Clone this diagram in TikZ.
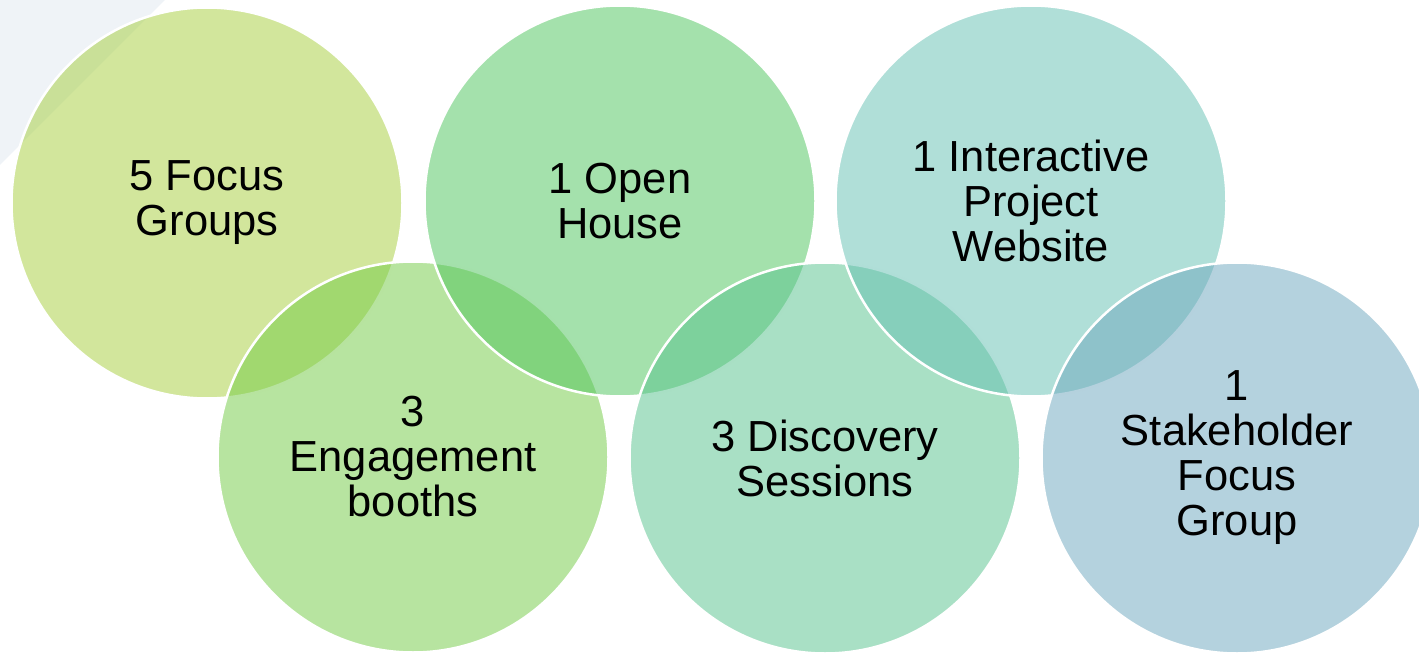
\documentclass[tikz,border=0pt]{standalone}
\usepackage{fontspec}
\setmainfont{Liberation Sans}
\definecolor{bgtri}{RGB}{239,243,247}
\definecolor{cA}{RGB}{168,207,65}
\definecolor{cB}{RGB}{81,197,95}
\definecolor{cC}{RGB}{103,193,180}
\definecolor{cD}{RGB}{117,203,72}
\definecolor{cE}{RGB}{90,195,143}
\definecolor{cF}{RGB}{112,168,191}
\tikzset{
  bubble/.style={circle, minimum size=391pt, inner sep=0pt, draw=white, line width=2.5pt,
    fill opacity=0.52, text opacity=1, align=center, text=black,
    font=\fontsize{43.5}{45}\selectfont}
}
\begin{document}
\begin{tikzpicture}[x=1pt,y=-1pt]
\useasboundingbox (0,0) rectangle (1419,655);
\clip (0,0) rectangle (1419,655);
\fill[bgtri] (0,0) -- (165,0) -- (0,165) -- cycle;
\node[bubble, fill=cA] (c1) at (207,203) {5 Focus\\Groups};
\node[bubble, fill=cD] (c4) at (413,457) {3\\Engagement\\booths};
\node[bubble, fill=cB] (c2) at (620,201) {1 Open\\House};
\node[bubble, fill=cE] (c5) at (825,458) {3 Discovery\\Sessions};
\node[bubble, fill=cC] (c3) at (1031,201) {1 Interactive\\Project\\Website};
\node[bubble, fill=cF] (c6) at (1237,458) {1\\Stakeholder\\Focus\\Group};
\end{tikzpicture}
\end{document}
